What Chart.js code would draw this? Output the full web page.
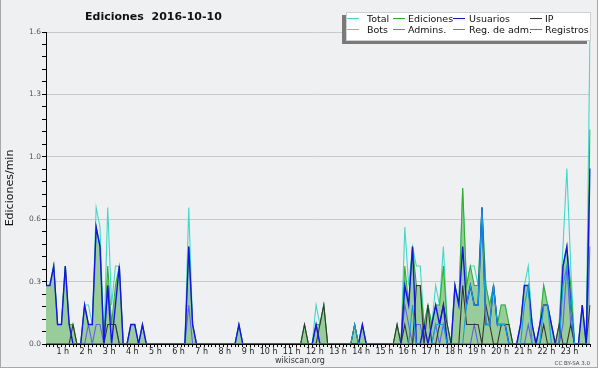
<!DOCTYPE html>
<html>
<head>
<meta charset="utf-8">
<script src="https://cdn.jsdelivr.net/npm/chart.js@4"></script>
<style>
  body { margin: 0; background: #fff; }
  #wrap { position: relative; width: 600px; height: 370px; font-family: "DejaVu Sans", sans-serif; }
  #bg { position: absolute; left: 0; top: 0; width: 598px; height: 368px; box-sizing: border-box;
        background: #eff0f2; border: 1px solid #a8a8a8; border-top: none; }
  #chart { position: absolute; left: 0; top: 0; }
  #title { position: absolute; left: 85px; top: 11px; font-size: 11px; line-height: 12px; font-weight: bold;
           color: #111; white-space: pre; }
  #legendBox { position: absolute; left: 346px; top: 12px; width: 245px; height: 29px; box-sizing: border-box;
               background: #fff; border: 1px solid #d0d0d0; box-shadow: -4px 3px 0 #7a7a7a; }
  .lg-line { position: absolute; height: 1px; }
  .lg-text { position: absolute; font-size: 9.5px; line-height: 10px; color: #111; white-space: nowrap; }
  #site { position: absolute; left: 250px; top: 356px; width: 100px; text-align: center; font-size: 8px;
          line-height: 9px; color: #333; }
  #lic { position: absolute; left: 530px; top: 360px; width: 60px; text-align: right; font-size: 5.5px;
         line-height: 7px; color: #444; }
</style>
</head>
<body>
<div id="wrap">
  <div id="bg"></div>
  <canvas id="chart" width="600" height="370"></canvas>
  <div id="title">Ediciones  2016-10-10</div>
  <div id="legendBox"></div>
  <div id="site">wikiscan.org</div>
  <div id="lic">CC BY-SA 3.0</div>
</div>
<script>
// 10-minute slots, values in edits per minute
const slots = [];
for (let i = 0; i < 142; i++) {
    const h = Math.floor(i / 6), m = (i % 6) * 10;
    slots.push(String(h).padStart(2, "0") + ":" + String(m).padStart(2, "0"));
}

const hourLabels = ["1 h","2 h","3 h","4 h","5 h","6 h","7 h","8 h","9 h","10 h","11 h","12 h",
    "13 h","14 h","15 h","16 h","17 h","18 h","19 h","20 h","21 h","22 h","23 h"];
const yTickLabels = ["0.0","0.3","0.6","1.0","1.3","1.6"];

const total = [
    .3,.3,.4,.1,.1,.4,  .1,.1,0,0,.2,.2,  .1,.7,.6,0,.7,.2,  .4,.4,0,0,.1,.1,
    0,.1,0,0,0,0,  0,0,0,0,0,0,  0,.7,.1,0,0,0,  0,0,0,0,0,0,
    0,0,.1,0,0,0,  0,0,0,0,0,0,  0,0,0,0,0,0,  0,.1,0,0,.2,.1,
    .2,0,0,0,0,0,  0,0,.1,0,.1,0,  0,0,0,0,0,0,  0,.1,0,.6,.3,.5,
    .4,.4,.1,.2,.1,.3,  .2,.5,.1,0,.3,.2,  .8,.3,.4,.4,.3,.7,  .3,.2,.3,.1,.2,.2,
    .1,0,0,.1,.3,.4,  .1,0,.1,.3,.2,.1,  0,.1,.5,.9,.4,0,  0,.2,0,1.6
];
const ediciones = [
    .3,.3,.4,.1,.1,.4,  .1,.1,0,0,.2,.1,  .1,.6,.5,0,.4,.1,  .3,.4,0,0,.1,.1,
    0,.1,0,0,0,0,  0,0,0,0,0,0,  0,.5,.1,0,0,0,  0,0,0,0,0,0,
    0,0,.1,0,0,0,  0,0,0,0,0,0,  0,0,0,0,0,0,  0,.1,0,0,.1,.1,
    .2,0,0,0,0,0,  0,0,.1,0,.1,0,  0,0,0,0,0,0,  0,.1,0,.4,.2,.5,
    .3,.3,.1,.2,.1,.2,  .2,.4,.1,0,.3,.2,  .8,.3,.4,.3,.3,.7,  .3,.2,.3,.1,.2,.2,
    .1,0,0,.1,.3,.3,  .1,0,.1,.3,.2,.1,  0,.1,.4,.5,.3,0,  0,.2,0,1.1
];
const usuarios = [
    .3,.3,.4,.1,.1,.4,  .1,0,0,0,.2,.1,  .1,.6,.5,0,.3,0,  .2,.4,0,0,.1,.1,
    0,.1,0,0,0,0,  0,0,0,0,0,0,  0,.5,.1,0,0,0,  0,0,0,0,0,0,
    0,0,.1,0,0,0,  0,0,0,0,0,0,  0,0,0,0,0,0,  0,0,0,0,.1,0,
    0,0,0,0,0,0,  0,0,0,0,.1,0,  0,0,0,0,0,0,  0,0,0,.3,.2,.5,
    0,0,.1,0,.1,.2,  .1,.2,0,0,.3,.2,  .5,.2,.3,.2,.2,.7,  .1,.1,.3,.1,.1,.1,
    0,0,0,.1,.3,.3,  .1,0,.1,.2,.2,.1,  0,0,.4,.5,.2,0,  0,.2,0,.9
];
const ip = [
    0,0,0,0,0,0,  0,.1,0,0,0,0,  0,0,0,0,.1,.1,  .1,0,0,0,0,0,
    0,0,0,0,0,0,  0,0,0,0,0,0,  0,0,0,0,0,0,  0,0,0,0,0,0,
    0,0,0,0,0,0,  0,0,0,0,0,0,  0,0,0,0,0,0,  0,.1,0,0,0,.1,
    .2,0,0,0,0,0,  0,0,.1,0,0,0,  0,0,0,0,0,0,  0,.1,0,.1,0,0,
    .3,.3,0,.2,0,0,  .1,.2,.1,0,0,0,  .3,.1,.1,.1,.1,0,  .2,.1,0,0,.1,.1,
    .1,0,0,0,0,0,  0,0,0,.1,0,0,  0,.1,0,0,.1,0,  0,0,0,.2
];
const bots = [
    0,0,0,0,0,0,  0,0,0,0,0,0,  0,0,0,0,0,0,  0,0,0,0,0,0,
    0,0,0,0,0,0,  0,0,0,0,0,0,  0,0,0,0,0,0,  0,0,0,0,0,0,
    0,0,0,0,0,0,  0,0,0,0,0,0,  0,0,0,0,0,0,  0,0,0,0,0,0,
    0,0,0,0,0,0,  0,0,0,0,0,0,  0,0,0,0,0,0,  0,0,0,0,0,0,
    0,0,0,0,0,0,  0,0,0,0,0,0,  0,0,0,0,0,0,  0,0,0,0,0,0,
    0,0,0,0,0,0,  0,0,0,0,0,0,  0,0,0,0,0,0,  0,0,0,0
];
const admins = [
    0,0,0,0,0,0,  0,0,0,0,0,0,  0,0,0,0,0,0,  0,0,0,0,0,0,
    0,0,0,0,0,0,  0,0,0,0,0,0,  0,0,0,0,0,0,  0,0,0,0,0,0,
    0,0,0,0,0,0,  0,0,0,0,0,0,  0,0,0,0,0,0,  0,0,0,0,0,0,
    0,0,0,0,0,0,  0,0,.1,0,0,0,  0,0,0,0,0,0,  0,0,0,0,0,.2,
    0,0,0,0,0,.1,  .1,.1,0,0,0,0,  0,.2,.3,.2,.2,.7,  .1,.1,.3,.1,.1,.1,
    0,0,0,0,.2,.3,  0,0,0,.2,.2,0,  0,0,.3,.4,.2,0,  0,0,0,0
];
const regAdm = [
    0,0,0,0,0,0,  0,0,0,0,0,0,  0,0,0,0,0,0,  0,0,0,0,0,0,
    0,0,0,0,0,0,  0,0,0,0,0,0,  0,0,0,0,0,0,  0,0,0,0,0,0,
    0,0,0,0,0,0,  0,0,0,0,0,0,  0,0,0,0,0,0,  0,0,0,0,0,0,
    0,0,0,0,0,0,  0,0,0,0,0,0,  0,0,0,0,0,0,  0,0,0,0,0,0,
    0,0,0,0,0,0,  0,0,0,0,0,0,  0,0,0,0,0,0,  0,0,0,0,0,0,
    0,0,0,0,0,0,  0,0,0,0,0,0,  0,0,0,0,0,0,  0,0,0,0
];
const registros = [
    0,0,0,0,0,0,  0,0,0,0,0,.1,  0,.1,.1,0,.3,.1,  .1,0,0,0,0,0,
    0,0,0,0,0,0,  0,0,0,0,0,0,  0,.2,0,0,0,0,  0,0,0,0,0,0,
    0,0,0,0,0,0,  0,0,0,0,0,0,  0,0,0,0,0,0,  0,0,0,0,.1,0,
    0,0,0,0,0,0,  0,0,0,0,0,0,  0,0,0,0,0,0,  0,0,0,.2,.1,0,
    .1,.1,0,0,0,.1,  0,.1,0,0,0,0,  0,0,0,.1,0,0,  0,0,0,0,0,0,
    0,0,0,0,0,.1,  0,0,0,0,0,0,  0,0,.1,.4,.1,0,  0,0,0,.5
];

const seriesNames = ["Total", "Ediciones", "Usuarios", "IP", "Bots", "Admins.", "Reg. de adm.", "Registros"];
const seriesData = [total, ediciones, usuarios, ip, bots, admins, regAdm, registros];
const colors = ["rgb(64,216,200)", "rgb(50,175,50)", "rgb(20,20,230)", "rgb(50,55,50)",
    "rgb(255,150,40)", "rgb(20,160,220)", "rgb(210,60,220)", "rgb(95,95,240)"];
// lower order is drawn on top
const drawOrder = [8, 7, 2, 3, 6, 1, 5, 4];

const datasets = seriesNames.map((name, k) => ({
    label: name,
    data: seriesData[k],
    borderColor: colors[k],
    backgroundColor: k === 1 ? "rgb(152,204,152)" : colors[k],
    fill: k === 1 ? "origin" : false,
    borderWidth: k === 2 ? 1.4 : 1.1,
    pointRadius: 0,
    tension: 0,
    order: drawOrder[k]
}));

// legend, 4 columns x 2 rows, drawn over the top right corner
const legendLine = [347, 393, 453, 530];
const legendText = [367, 408, 469, 545];
const wrap = document.getElementById("wrap");
seriesNames.forEach((name, k) => {
    const col = k % 4, row = Math.floor(k / 4);
    const ln = document.createElement("div");
    ln.className = "lg-line";
    ln.style.left = legendLine[col] + "px";
    ln.style.width = "12px";
    ln.style.top = (row ? 29 : 18) + "px";
    ln.style.background = colors[k];
    wrap.appendChild(ln);
    const tx = document.createElement("div");
    tx.className = "lg-text";
    tx.style.left = legendText[col] + "px";
    tx.style.top = (row ? 24.5 : 14.2) + "px";
    tx.textContent = name;
    wrap.appendChild(tx);
});

new Chart(document.getElementById("chart"), {
    type: "line",
    data: { labels: slots, datasets: datasets },
    options: {
        responsive: false,
        animation: false,
        layout: { padding: { top: 32, right: 10, bottom: 0, left: 0 } },
        plugins: { legend: { display: false }, tooltip: { enabled: false } },
        scales: {
            x: {
                type: "category",
                offset: false,
                z: 1,
                grid: { drawOnChartArea: false, offset: false, tickLength: 3, tickColor: "#000" },
                border: { color: "#000" },
                ticks: {
                    autoSkip: false, maxRotation: 0, minRotation: 0, align: "end", padding: 0,
                    color: "#222", font: { family: "DejaVu Sans", size: 8 },
                    callback: (v, i) => (i > 0 && i % 6 === 0) ? hourLabels[i / 6 - 1] : ""
                },
                afterFit: s => { s.height = 26; }
            },
            y: {
                min: 0, max: 1.6,
                afterBuildTicks: s => {
                    const t = [];
                    for (let k = 0; k <= 25; k++) t.push({ value: +(k * 0.064).toFixed(3) });
                    s.ticks = t;
                },
                grid: {
                    color: c => c.index % 5 === 0 ? "#c8c9cb" : "rgba(0,0,0,0)",
                    tickColor: "#000", tickLength: 4
                },
                border: { color: "#000" },
                ticks: {
                    padding: 1, color: "#555", font: { family: "DejaVu Sans", size: 7.5 },
                    callback: (v, i) => i % 5 === 0 ? yTickLabels[i / 5] : ""
                },
                title: {
                    display: true, text: "Ediciones/min", color: "#111",
                    font: { family: "DejaVu Sans", size: 11 }, padding: { top: 3.5, bottom: 0 }
                },
                afterFit: s => { s.width = 46; }
            }
        }
    }
});
</script>
</body>
</html>
